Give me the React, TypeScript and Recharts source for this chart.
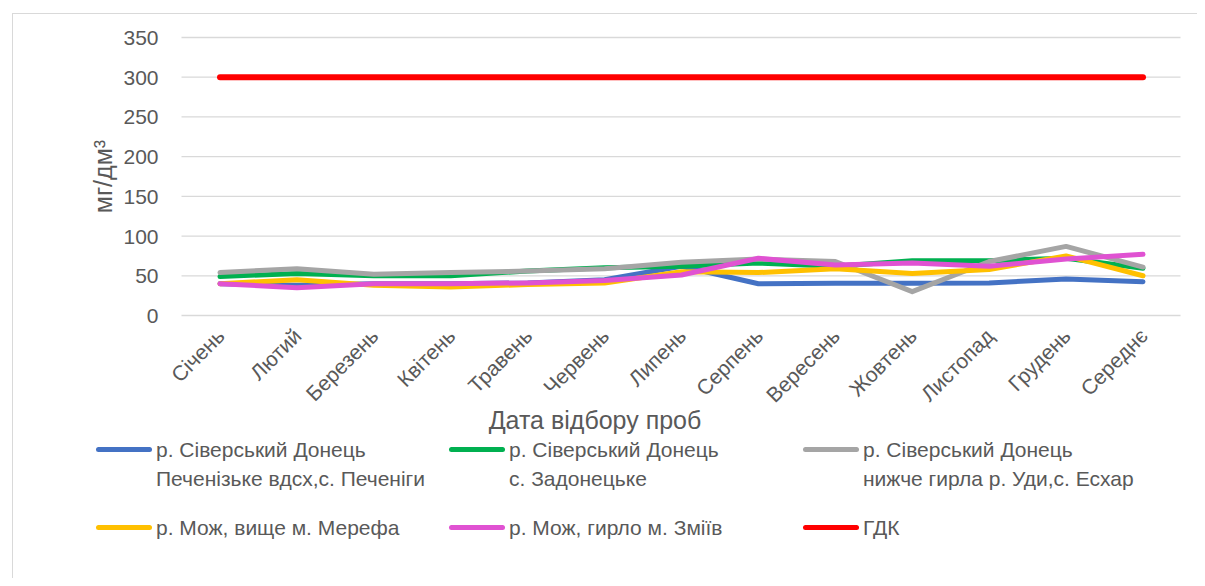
import React from "react";
import { CartesianGrid, Line, LineChart, XAxis, YAxis } from "recharts";

// Sampling months (last column is the yearly mean)
const months = [
  "Січень",
  "Лютий",
  "Березень",
  "Квітень",
  "Травень",
  "Червень",
  "Липень",
  "Серпень",
  "Вересень",
  "Жовтень",
  "Листопад",
  "Грудень",
  "Середнє",
];

// Concentrations, mg/dm3
const pechenihy = [40, 38, 40, 40, 41, 45, 62, 40, 40.5, 40.5, 41, 46, 42.5];
const zadonetske = [49, 53, 50, 50, 56, 60, 62, 66, 62, 69, 69, 72, 59.5];
const eskhar = [54, 59, 52, 54, 56, 59, 67, 71, 68, 30, 68, 87, 61];
const merefa = [40, 45, 38, 36, 39, 41, 55, 54, 59, 53, 58, 75, 50];
const zmiiv = [40, 35, 40, 40, 41, 44, 51, 72, 63.5, 66, 62, 71, 77];
const gdk = [300, 300, 300, 300, 300, 300, 300, 300, 300, 300, 300, 300, 300];

const yTicks = [0, 50, 100, 150, 200, 250, 300, 350];

const series = [
  { key: "pechenihy", lines: ["р. Сіверський Донець", "Печенізьке вдсх,с. Печеніги"], color: "#4472C4", values: pechenihy },
  { key: "zadonetske", lines: ["р. Сіверський Донець", "с. Задонецьке"], color: "#00B050", values: zadonetske },
  { key: "eskhar", lines: ["р. Сіверський Донець", "нижче гирла р. Уди,с. Есхар"], color: "#A5A5A5", values: eskhar },
  { key: "merefa", lines: ["р. Мож, вище м. Мерефа"], color: "#FFC000", values: merefa },
  { key: "zmiiv", lines: ["р. Мож, гирло м. Зміїв"], color: "#E052D2", values: zmiiv },
  { key: "gdk", lines: ["ГДК"], color: "#FF0000", values: gdk },
];

const data = months.map((month, i) => {
  const row: Record<string, string | number> = { month };
  series.forEach((s) => {
    row[s.key] = s.values[i];
  });
  return row;
});

const FONT = '"Liberation Sans", Arial, sans-serif';
const TEXT = "#595959";

function MonthTick(props: any) {
  const { x, y, payload } = props;
  const ax = x + 6;
  const ay = y + 14;
  return (
    <text
      x={ax}
      y={ay}
      transform={`rotate(-45 ${ax} ${ay})`}
      textAnchor="end"
      fill={TEXT}
      fontSize={21}
      fontFamily={FONT}
    >
      {payload.value}
    </text>
  );
}

function UnitLabel(props: any) {
  const vb = props.viewBox || { x: 94, y: 30, width: 80, height: 278 };
  const cx = 95;
  const cy = vb.y + vb.height / 2;
  return (
    <text
      x={cx}
      y={cy}
      transform={`rotate(-90 ${cx} ${cy})`}
      textAnchor="middle"
      dominantBaseline="central"
      fill={TEXT}
      fontSize={25}
      fontFamily={FONT}
    >
      мг/дм³
    </text>
  );
}

function DateTitle(props: any) {
  const vb = props.viewBox || { x: 173.5, y: 307.5, width: 999, height: 125 };
  return (
    <text
      x={587}
      y={vb.y + vb.height - 12}
      textAnchor="middle"
      fill={TEXT}
      fontSize={25}
      fontFamily={FONT}
    >
      Дата відбору проб
    </text>
  );
}

const legendCols = [88, 441, 795];
const legendRows = [441, 519];

function ChartLegend() {
  return (
    <>
      {series.map((s, i) => {
        const left = legendCols[i % 3];
        const top = legendRows[Math.floor(i / 3)];
        return (
          <div key={s.key} style={{ position: "absolute", left, top: top - 14.5 }}>
            <div
              style={{
                position: "absolute",
                left: 0,
                top: 12,
                width: 56,
                height: 5,
                borderRadius: 3,
                background: s.color,
              }}
            />
            <div
              style={{
                position: "absolute",
                left: 60,
                top: 0,
                whiteSpace: "nowrap",
                fontFamily: FONT,
                fontSize: 21,
                lineHeight: "29px",
                color: TEXT,
              }}
            >
              {s.lines.map((l) => (
                <div key={l}>{l}</div>
              ))}
            </div>
          </div>
        );
      })}
    </>
  );
}

export default function App() {
  return (
    <div style={{ position: "relative", width: 1197, height: 570 }}>
      {/* chart frame: only its top and left edges fall inside the page */}
      <div
        style={{
          position: "absolute",
          left: 4,
          top: 5,
          right: 0,
          bottom: 0,
          borderTop: "1.5px solid #d9d9d9",
          borderLeft: "1.5px solid #d9d9d9",
        }}
      />
      <div style={{ position: "absolute", left: 0, top: 0 }}>
        <LineChart
          width={1197}
          height={570}
          data={data}
          margin={{ top: 29.5, right: 24.5, bottom: 137.5, left: 93.5 }}
        >
          <CartesianGrid vertical={false} stroke="#d9d9d9" strokeWidth={1.3} />
          <XAxis
            dataKey="month"
            height={125}
            padding={{ left: 38.5, right: 37.5 }}
            axisLine={false}
            tickLine={false}
            interval={0}
            tick={<MonthTick />}
            label={<DateTitle />}
          />
          <YAxis
            width={80}
            domain={[0, 350]}
            ticks={yTicks}
            axisLine={false}
            tickLine={false}
            tickSize={8}
            tickMargin={15}
            tick={{ fill: TEXT, fontSize: 21, fontFamily: FONT }}
            label={<UnitLabel />}
          />
          {series.map((s) => (
            <Line
              key={s.key}
              dataKey={s.key}
              stroke={s.color}
              strokeWidth={s.key === "gdk" ? 6 : 5}
              strokeLinecap="round"
              strokeLinejoin="round"
              dot={false}
              activeDot={false}
              isAnimationActive={false}
            />
          ))}
        </LineChart>
      </div>
      <ChartLegend />
    </div>
  );
}
